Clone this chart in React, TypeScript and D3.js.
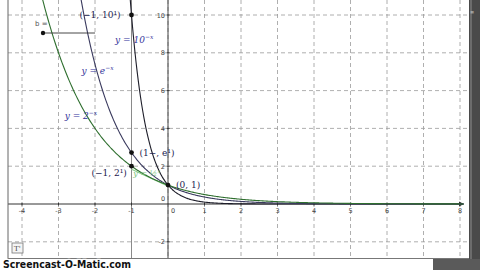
import React from "react";
import * as d3 from "d3";

const xTicks = [-4, -3, -2, -1, 1, 2, 3, 4, 5, 6, 7, 8];
const xGrid = [-4, -3, -2, -1, 0, 1, 2, 3, 4, 5, 6, 7, 8];
const yTicks = [-2, 2, 4, 6, 8, 10];
const yGrid = [-2, 2, 4, 6, 8, 10];
const curveBases = [10, Math.E, 2];
const curveColors = ["#1e1e2a", "#3a3a5e", "#2f6f2f"];
const pointXs = [-1, -1, -1, 0];
const pointYs = [10, Math.E, 2, 1];
const pointLabels = ["(−1, 10¹)", "(1−, e¹)", "(−1, 2¹)", "(0, 1)"];
const pointLabelDx = [-52, 8, -40, 8];
const pointLabelDy = [3, 3, 10, 3];
const fnLabels = ["y = 10", "y = e", "y = 2"];
const fnLabelX = [-1.45, -2.37, -2.83];
const fnLabelY = [8.5, 6.9, 4.5];

export default function App() {
  const x = d3.scaleLinear().domain([-4, 8]).range([22, 460]);
  const y = d3.scaleLinear().domain([0, 10]).range([204, 15]);
  const left = 8, right = 469, top = 0, bottom = 258;

  const line = d3
    .line<[number, number]>()
    .x((d) => x(d[0]))
    .y((d) => y(d[1]))
    .curve(d3.curveMonotoneX);

  const curves = curveBases.map((b) => {
    const x0 = -Math.log(11.5) / Math.log(b);
    const pts: [number, number][] = [];
    const n = 300;
    for (let i = 0; i <= n; i++) {
      const xv = x0 + ((8.1 - x0) * i) / n;
      pts.push([xv, Math.pow(b, -xv)]);
    }
    return line(pts) || "";
  });

  return (
    <svg
      width={480}
      height={270}
      style={{ position: "absolute", left: 0, top: 0, background: "#fff" }}
      fontFamily="DejaVu Sans, sans-serif"
    >
      <defs>
        <clipPath id="plot">
          <rect x={left} y={top} width={right - left} height={bottom - top} />
        </clipPath>
      </defs>
      <rect x={0} y={0} width={480} height={270} fill="#fff" />
      <g clipPath="url(#plot)">
        {xGrid.map((t) => (
          <line
            key={"gx" + t}
            x1={x(t)}
            x2={x(t)}
            y1={top}
            y2={bottom}
            stroke="#9a9a9a"
            strokeWidth={0.8}
            strokeDasharray="4,3"
          />
        ))}
        {yGrid.map((t) => (
          <line
            key={"gy" + t}
            x1={left}
            x2={right}
            y1={y(t)}
            y2={y(t)}
            stroke="#9a9a9a"
            strokeWidth={0.8}
            strokeDasharray="4,3"
          />
        ))}
        <line x1={x(-1)} x2={x(-1)} y1={top} y2={bottom} stroke="#8a8a8a" strokeWidth={1} />
        <line x1={x(0)} x2={x(0)} y1={top} y2={bottom} stroke="#444" strokeWidth={1} />
        <line x1={left} x2={x(8) + 2} y1={y(0)} y2={y(0)} stroke="#333" strokeWidth={1} />
        <path
          d={`M${x(8) + 4},${y(0)} L${x(8) - 1},${y(0) - 2.5} L${x(8) - 1},${y(0) + 2.5} Z`}
          fill="#333"
        />
        {xTicks.map((t) => (
          <g key={"tx" + t}>
            <line x1={x(t)} x2={x(t)} y1={y(0) - 1.5} y2={y(0) + 1.5} stroke="#333" />
            <text x={x(t)} y={y(0) + 9} fontSize={6.5} fill="#444" textAnchor="middle">
              {t}
            </text>
          </g>
        ))}
        <text x={x(0) + 5} y={y(0) + 9} fontSize={6.5} fill="#444" textAnchor="middle">0</text>
        <text x={x(0) - 5} y={y(0) - 3} fontSize={6.5} fill="#444" textAnchor="middle">0</text>
        {yTicks.map((t) => (
          <g key={"ty" + t}>
            <line x1={x(0) - 1.5} x2={x(0) + 1.5} y1={y(t)} y2={y(t)} stroke="#333" />
            <text x={x(0) - 3} y={y(t) + 2.5} fontSize={6.5} fill="#444" textAnchor="end">
              {t}
            </text>
          </g>
        ))}
        <line
          x1={x(-1)}
          y1={y(2) + 3}
          x2={x(0) - 2}
          y2={y(1)}
          stroke="#8fd08f"
          strokeWidth={1.2}
        />
        {curves.map((d, i) => (
          <path key={"c" + i} d={d} fill="none" stroke={curveColors[i]} strokeWidth={1.1} />
        ))}
        <text x={35} y={26} fontSize={7} fill="#555">b =</text>
        <line x1={43} x2={x(-2)} y1={33} y2={33} stroke="#333" strokeWidth={0.9} />
        <circle cx={43} cy={33} r={2.2} fill="#111" />
        {pointXs.map((px, i) => (
          <g key={"p" + i}>
            <circle cx={x(px)} cy={y(pointYs[i])} r={2.4} fill="#111" />
            <text
              x={x(px) + pointLabelDx[i]}
              y={y(pointYs[i]) + pointLabelDy[i]}
              fontSize={9}
              fontFamily="DejaVu Serif, serif"
              fill="#1c1c50"
            >
              {pointLabels[i]}
            </text>
          </g>
        ))}
        {fnLabels.map((l, i) => (
          <text
            key={"fl" + i}
            x={x(fnLabelX[i])}
            y={y(fnLabelY[i])}
            fontSize={9}
            fontFamily="DejaVu Serif, serif"
            fontStyle="italic"
            fill="#34349a"
          >
            {l}
            <tspan dy={-4} fontSize={6}>−x</tspan>
          </text>
        ))}
        <text
          x={x(-0.95)}
          y={y(2) + 10}
          fontSize={8}
          fontFamily="DejaVu Serif, serif"
          fontStyle="italic"
          fill="#7cc47c"
        >
          y = ½
          <tspan dy={-3} fontSize={5}>x</tspan>
        </text>
        <rect x={12} y={243} width={11} height={10} fill="#f4f4f4" stroke="#777" strokeWidth={0.8} />
        <text x={14} y={251} fontSize={7} fill="#444" fontFamily="DejaVu Serif, serif">T'</text>
      </g>
      <line x1={left} x2={left} y1={top} y2={bottom + 1} stroke="#666" strokeWidth={1} />
      <line x1={left} x2={right} y1={bottom + 0.5} y2={bottom + 0.5} stroke="#777" strokeWidth={1} />
      <rect x={right} y={0} width={480 - right} height={bottom + 1} fill="#4a4a4a" />
      <rect x={right + 1} y={0} width={2} height={bottom + 1} fill="#6c6c6c" />
      <rect x={433} y={bottom + 1} width={47} height={11} fill="#5a5a5a" />
      <text x={470} y={14} fontSize={5} fill="#ccc">≡</text>
      <text
        x={3}
        y={267.5}
        fontSize={11}
        fontWeight="bold"
        fontFamily="DejaVu Sans, sans-serif"
        fill="#111"
        stroke="#fff"
        strokeWidth={2.5}
        paintOrder="stroke"
        textLength={128}
        lengthAdjust="spacingAndGlyphs"
      >
        Screencast-O-Matic.com
      </text>
    </svg>
  );
}
